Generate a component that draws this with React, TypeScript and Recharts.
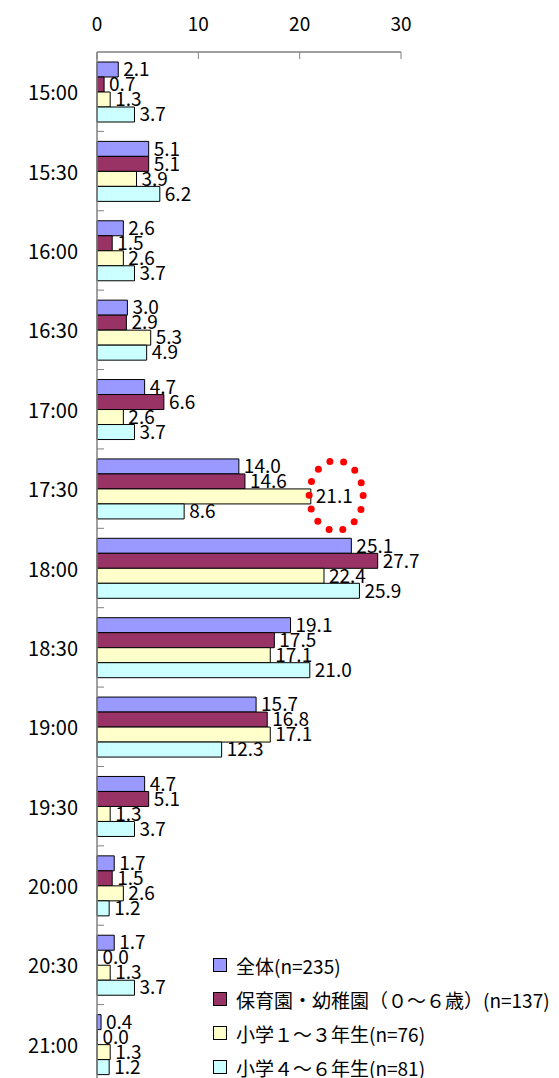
import { BarChart, Bar, XAxis, YAxis, LabelList, ReferenceDot } from "recharts";

const times = [
  "15:00", "15:30", "16:00", "16:30", "17:00", "17:30", "18:00",
  "18:30", "19:00", "19:30", "20:00", "20:30", "21:00",
];
const all = [2.1, 5.1, 2.6, 3.0, 4.7, 14.0, 25.1, 19.1, 15.7, 4.7, 1.7, 1.7, 0.4];
const preschool = [0.7, 5.1, 1.5, 2.9, 6.6, 14.6, 27.7, 17.5, 16.8, 5.1, 1.5, 0.0, 0.0];
const lower = [1.3, 3.9, 2.6, 5.3, 2.6, 21.1, 22.4, 17.1, 17.1, 1.3, 2.6, 1.3, 1.3];
const upper = [3.7, 6.2, 3.7, 4.9, 3.7, 8.6, 25.9, 21.0, 12.3, 3.7, 1.2, 3.7, 1.2];
const xTicks = [0, 10, 20, 30];

const series = [
  { key: "all", name: "全体(n=235)", color: "#9999ff" },
  { key: "preschool", name: "保育園・幼稚園（０〜６歳）(n=137)", color: "#993366" },
  { key: "lower", name: "小学１〜３年生(n=76)", color: "#ffffcc" },
  { key: "upper", name: "小学４〜６年生(n=81)", color: "#ccffff" },
];

const data = times.map((t, i) => ({
  time: t,
  all: all[i],
  preschool: preschool[i],
  lower: lower[i],
  upper: upper[i],
}));

const TOP = 52;
const LEFT = 97;
const PLOT_H = 1032;
const BAND = PLOT_H / times.length;
const FONT = '"Noto Sans CJK JP", "Noto Sans", sans-serif';

const XTick = (props: any) => {
  const { x, payload } = props;
  return (
    <g>
      <line x1={x} x2={x} y1={TOP} y2={TOP + 7} stroke="#808080" />
      <text x={x} y={22} textAnchor="middle" dominantBaseline="central" fontSize={19} fill="#000">
        {payload.value}
      </text>
    </g>
  );
};

const YTick = (props: any) => {
  const { y, payload } = props;
  return (
    <g>
      <line x1={LEFT} x2={LEFT + 7} y1={y + BAND / 2} y2={y + BAND / 2} stroke="#808080" />
      <text x={78} y={y} textAnchor="end" dominantBaseline="central" fontSize={20} fill="#000">
        {payload.value}
      </text>
    </g>
  );
};

const DottedRing = (props: any) => {
  const { cx, cy } = props;
  return (
    <ellipse
      cx={cx}
      cy={cy + 7}
      rx={27}
      ry={35}
      fill="none"
      stroke="#ff0000"
      strokeWidth={7}
      strokeLinecap="round"
      strokeDasharray="0 14"
    />
  );
};

export default function App() {
  return (
    <div
      style={{
        position: "absolute",
        left: 0,
        top: 0,
        width: 559,
        height: 1078,
        overflow: "hidden",
        background: "#fff",
        fontFamily: FONT,
      }}
    >
      <BarChart
        width={559}
        height={1090}
        data={data}
        layout="vertical"
        margin={{ top: 0, right: 158, left: 0, bottom: 6 }}
        barCategoryGap={10}
        barGap={0}
      >
        <XAxis
          type="number"
          orientation="top"
          domain={[0, 30]}
          ticks={xTicks}
          height={TOP}
          axisLine={{ stroke: "#808080", strokeWidth: 1.5 }}
          tickLine={false}
          tick={<XTick />}
        />
        <YAxis
          type="category"
          dataKey="time"
          width={LEFT}
          axisLine={{ stroke: "#808080", strokeWidth: 1.5 }}
          tickLine={false}
          tick={<YTick />}
        />
        {series.map((s) => (
          <Bar
            key={s.key}
            dataKey={s.key}
            name={s.name}
            fill={s.color}
            stroke="#000"
            strokeWidth={1}
            minPointSize={0.5}
            isAnimationActive={false}
          >
            <LabelList
              dataKey={s.key}
              position="right"
              offset={5}
              fontSize={19}
              fill="#000"
              formatter={(v: any) => Number(v).toFixed(1)}
            />
          </Bar>
        ))}
        <ReferenceDot x={23.6} y="17:30" r={30} shape={<DottedRing />} ifOverflow="visible" />
      </BarChart>
      <div style={{ position: "absolute", left: 213, top: 948 }}>
        {series.map((s) => (
          <div key={s.key} style={{ display: "flex", alignItems: "center", height: 34 }}>
            <span
              style={{
                width: 14,
                height: 14,
                background: s.color,
                border: "1px solid #000",
                marginRight: 9,
                boxSizing: "border-box",
              }}
            />
            <span style={{ fontSize: 19, color: "#000", whiteSpace: "nowrap" }}>{s.name}</span>
          </div>
        ))}
      </div>
    </div>
  );
}
